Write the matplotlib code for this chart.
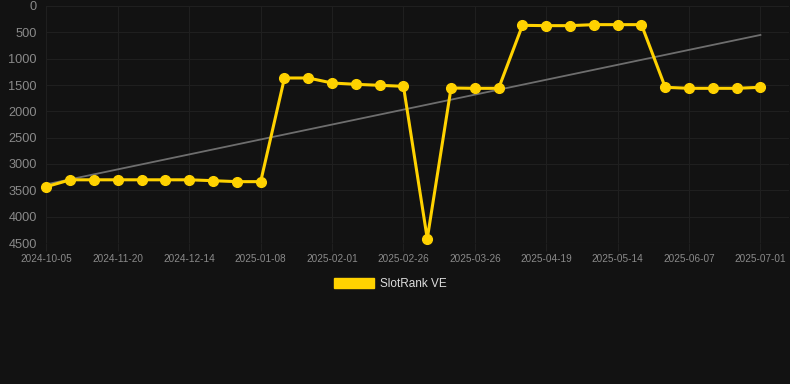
import numpy as np
import matplotlib.pyplot as plt
from matplotlib.patches import Patch

# rank per observation (lower is better, axis is inverted)
rank_values = [
    3430, 3300, 3300, 3300, 3300, 3300, 3300, 3317, 3335, 3335,
    1367, 1367, 1462, 1487, 1506, 1525,
    4418,
    1557, 1563, 1563,
    367, 373, 373, 354, 354, 354,
    1544, 1563, 1563, 1563, 1544,
]

tick_labels = [
    "2024-10-05", "2024-11-20", "2024-12-14", "2025-01-08",
    "2025-02-01", "2025-02-26", "2025-03-26", "2025-04-19",
    "2025-05-14", "2025-06-07", "2025-07-01",
]
tick_step = 3

y_ticks = [0, 500, 1000, 1500, 2000, 2500, 3000, 3500, 4000, 4500]

series_name = "SlotRank VE"

BG = "#121212"
LINE_COLOR = "#FFD200"
TREND_COLOR = "#6e6e6e"
GRID_COLOR = "#1f1f1f"
TICK_COLOR = "#8a8a8a"

plt.rcParams["font.family"] = ["Liberation Sans", "DejaVu Sans"]


def main():
    W, H = 790, 384
    fig = plt.figure(figsize=(W / 100, H / 100), dpi=100, facecolor=BG)
    ax = fig.add_axes([46 / W, 1 - 243 / H, (789 - 46) / W, (243 - 6) / H])
    ax.set_facecolor(BG)

    x = np.arange(len(rank_values))
    y = np.array(rank_values, dtype=float)

    # linear trend through the series
    slope, intercept = np.polyfit(x, y, 1)
    ax.plot(
        [x[0], x[-1]],
        [intercept, slope * x[-1] + intercept],
        color=TREND_COLOR,
        linewidth=1.3,
        zorder=2
    )

    ax.plot(
        x,
        y,
        color=LINE_COLOR,
        linewidth=2.2,
        marker="o",
        markersize=7,
        clip_on=False,
        zorder=3
    )

    ax.set_xlim(-0.02, 31.2)
    ax.set_ylim(4500, 0)

    ax.set_xticks(x[::tick_step])
    ax.set_xticklabels(tick_labels)
    ax.set_yticks(y_ticks)

    ax.tick_params(
        axis="x",
        colors=TICK_COLOR,
        labelsize=7.2,
        length=6,
        width=0.8,
        color=GRID_COLOR,
        pad=2
    )
    ax.tick_params(
        axis="y",
        colors=TICK_COLOR,
        labelsize=9.2,
        length=0,
        pad=6.5
    )

    ax.grid(True, color=GRID_COLOR, linewidth=0.8)
    ax.set_axisbelow(True)
    for spine in ax.spines.values():
        spine.set_visible(False)
    ax.axhline(4500, color="#282828", linewidth=0.8, zorder=1)

    handle = Patch(facecolor=LINE_COLOR, edgecolor=LINE_COLOR)
    leg = fig.legend(
        [handle],
        [series_name],
        loc="center",
        bbox_to_anchor=(390 / W, 1 - 284 / H),
        frameon=False,
        fontsize=8.5,
        handlelength=3.4,
        handleheight=1.0,
        handletextpad=0.5
    )
    for text in leg.get_texts():
        text.set_color("#dddddd")

    fig.savefig("out.png", dpi=100, facecolor=BG)
    plt.close(fig)


if __name__ == "__main__":
    main()
